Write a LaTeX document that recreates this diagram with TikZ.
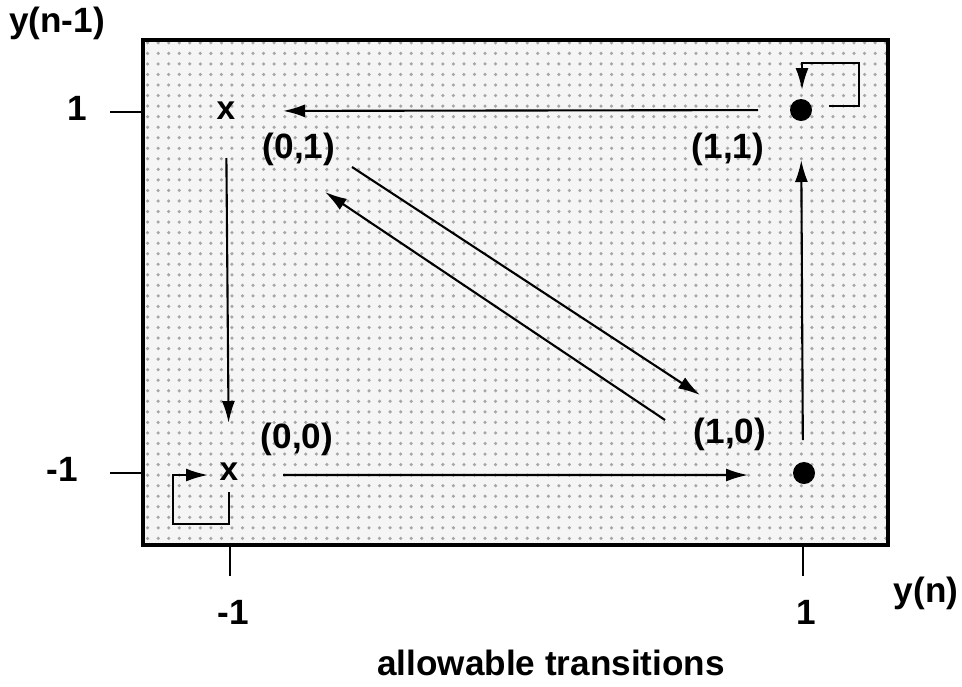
\documentclass[tikz,border=0pt]{standalone}
\usepackage{fontspec}
\setmainfont{Liberation Sans}
\usetikzlibrary{arrows.meta,calc,patterns}

\begin{document}
\begin{tikzpicture}[
    every node/.style={font=\bfseries\fontsize{10}{12}\selectfont},
    trans/.style={line width=0.6pt,-{Latex[length=2.2mm,width=1.3mm]}},
    xstate/.style={inner sep=0pt,font=\bfseries\fontsize{9.5}{11}\selectfont},
    dotstate/.style={circle,fill=black,inner sep=0pt,minimum size=0.22cm},
    tick/.style={line width=0.7pt}
]
\useasboundingbox (0,0) rectangle (9.62,6.86);

% dotted panel
\fill[black!4] (1.43,1.41) rectangle (8.88,6.46);
\fill[pattern=dots,pattern color=black!35] (1.43,1.41) rectangle (8.88,6.46);
\draw[line width=1pt] (1.43,1.41) rectangle (8.88,6.46);

% axes ticks
\foreach \y/\lab/\lx in {5.74/1/0.77, 2.13/-1/0.62} {
    \draw[tick] (1.10,\y) -- (1.43,\y);
    \node at (\lx,\y+0.04) {\lab};
}
\foreach \x/\lab in {2.30/-1, 8.03/1} {
    \draw[tick] (\x,1.41) -- (\x,1.10);
    \node at (\x+0.03,0.74) {\lab};
}
\node (yold) at (0.57,6.63) {y(n-1)};
\node (ynew) at (9.26,0.93) {y(n)};
\node (cap) at (5.51,0.23) {allowable transitions};

% states
\node[xstate] (s01) at (2.26,5.75) {x};
\node[xstate] (s00) at (2.29,2.14) {x};
\node[dotstate] (s11) at (8.01,5.76) {};
\node[dotstate] (s10) at (8.04,2.13) {};

\node (l01) at (2.99,5.37) {(0,1)};
\node (l11) at (7.28,5.37) {(1,1)};
\node (l00) at (2.97,2.47) {(0,0)};
\node (l10) at (7.30,2.52) {(1,0)};

% transitions
\draw[trans,shorten <=4.3mm,shorten >=5.7mm] (s11.center) -- (s01.center);
\draw[trans,shorten <=4.7mm,shorten >=4.9mm] (s01.center) -- (s00.center);
\draw[trans,shorten <=5.4mm,shorten >=5.6mm] ([yshift=-0.3mm]s00.center) -- ([yshift=-0.2mm]s10.center);
\draw[trans,shorten <=3.3mm,shorten >=5.0mm] ([xshift=-0.1mm]s10.center) -- (s11.center);

% diagonal pair
\coordinate (d1a) at (3.52,5.19);
\coordinate (d1b) at (7.00,2.91);
\coordinate (d2a) at (6.65,2.66);
\coordinate (d2b) at (3.25,4.94);
\draw[trans] (d1a) -- (d1b);
\draw[trans] (d2a) -- (d2b);

% self loops
\draw[trans] ($(s11.center)+(0.28,0.04)$) -| ++(0.30,0.43) -| ($(s11.center)+(0.01,0.20)$);
\draw[trans] ($(s00.center)+(0,-0.20)$) |- ++(-0.56,-0.32) |- ($(s00.center)+(-0.21,-0.03)$);
\end{tikzpicture}
\end{document}
